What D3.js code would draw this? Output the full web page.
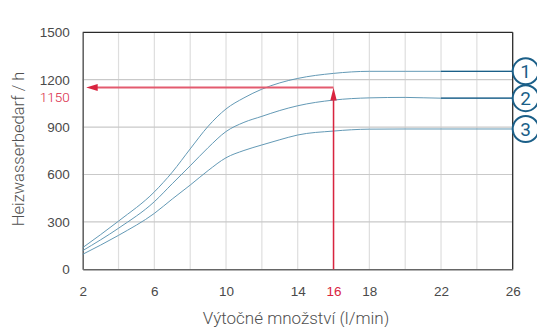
<!DOCTYPE html>
<html>
<head>
<meta charset="utf-8">
<script src="https://cdn.jsdelivr.net/npm/d3@7"></script>
<style>
  html, body { margin: 0; padding: 0; background: #fff; }
  svg { display: block; font-family: Roboto, "Noto Sans", sans-serif; }
</style>
</head>
<body>
<svg id="chart" width="537" height="327"></svg>
<script>
// Flow rate (l/min) against heating water demand (h) for three unit sizes
const flowRates = [2, 4, 6, 7, 8, 9, 10, 11, 12, 13, 14, 16, 18, 20, 22, 26];
const curve1 = [137, 305, 490, 615, 762, 905, 1015, 1085, 1140, 1180, 1208, 1240, 1253, 1253, 1253, 1253];
const curve2 = [118, 260, 428, 542, 655, 770, 872, 930, 968, 1005, 1035, 1071, 1085, 1088, 1083, 1083];
const curve3 = [95, 215, 354, 445, 533, 625, 706, 752, 787, 820, 850, 875, 887, 888, 888, 888];
const seriesNames = ["1", "2", "3"];

const xTicks = [2, 6, 10, 14, 16, 18, 22, 26];
const xGrid = [4, 6, 8, 10, 12, 14, 16, 18, 20, 22, 24];
const yTicks = [0, 300, 600, 900, 1200, 1500];
const yGrid = [300, 600, 900, 1200];

// Reading example: 16 l/min -> 1150 h
const markerFlow = 16;
const markerDemand = 1150;
const tailStart = 22; // dark tail segment of curves 1 and 2

const xTitle = "Výtočné množství (l/min)";
const yTitle = "Heizwasserbedarf / h";

const svg = d3.select("#chart");
const x = d3.scaleLinear().domain([2, 26]).range([82.7, 512.7]);
const y = d3.scaleLinear().domain([0, 1500]).range([269.3, 32.3]);

const lightBlue = "#5b93b1";
const darkBlue = "#1b5f88";
const red = "#d9243f";
const textCol = "#4a4a4a";

// grid
svg.append("g").selectAll("line").data(xGrid).join("line")
  .attr("x1", d => x(d)).attr("x2", d => x(d))
  .attr("y1", y(0)).attr("y2", y(1500))
  .attr("stroke", "#dedede").attr("stroke-width", 1.2);
svg.append("g").selectAll("line").data(yGrid).join("line")
  .attr("x1", x(2)).attr("x2", x(26))
  .attr("y1", d => y(d)).attr("y2", d => y(d))
  .attr("stroke", "#c9c9c9").attr("stroke-width", 1.2);

// frame
svg.append("line").attr("x1", x(2)).attr("x2", x(26)).attr("y1", y(1500)).attr("y2", y(1500))
  .attr("stroke", "#2a2a2a").attr("stroke-width", 1.3);
svg.append("line").attr("x1", x(26)).attr("x2", x(26)).attr("y1", y(1500)).attr("y2", y(0))
  .attr("stroke", "#2a2a2a").attr("stroke-width", 1.3);

// axes
const xAxis = d3.axisBottom(x).tickValues(xTicks).tickSize(0).tickPadding(17).tickFormat(d3.format("d"));
const gx = svg.append("g").attr("transform", `translate(0,${y(0)})`).call(xAxis);
gx.select(".domain").attr("stroke", "#666").attr("stroke-width", 1.6);
gx.selectAll("text").attr("font-size", 13.5).attr("font-weight", 300)
  .attr("fill", d => d === markerFlow ? red : textCol);

const yAxis = d3.axisLeft(y).tickValues(yTicks).tickSize(0).tickPadding(13).tickFormat(d3.format("d"));
const gy = svg.append("g").attr("transform", `translate(${x(2)},0)`).call(yAxis);
gy.select(".domain").attr("stroke", "#666").attr("stroke-width", 1.6);
gy.selectAll("text").attr("font-size", 13.5).attr("font-weight", 300).attr("fill", textCol);

// red marker value on the y axis, nudged below the 1200 tick label
svg.append("text")
  .attr("x", x(2) - 13).attr("y", y(markerDemand) + 10).attr("dy", "0.32em")
  .attr("text-anchor", "end").attr("font-size", 13.5).attr("font-weight", 300)
  .attr("fill", red).text(markerDemand);

// curves
const series = [curve1, curve2, curve3];
const line = d3.line().x(d => x(d[0])).y(d => y(d[1])).curve(d3.curveMonotoneX);
series.forEach(vals => {
  const pts = flowRates.map((f, i) => [f, vals[i]]);
  svg.append("path").attr("d", line(pts)).attr("fill", "none")
    .attr("stroke", lightBlue).attr("stroke-width", 1).attr("stroke-opacity", 0.95);
});
[curve1, curve2].forEach(vals => {
  const pts = flowRates.map((f, i) => [f, vals[i]]).filter(p => p[0] >= tailStart);
  svg.append("path").attr("d", line(pts)).attr("fill", "none")
    .attr("stroke", darkBlue).attr("stroke-width", 1.3);
});

// reading example arrows
svg.append("line")
  .attr("x1", x(markerFlow)).attr("x2", x(2) + 12)
  .attr("y1", y(markerDemand)).attr("y2", y(markerDemand))
  .attr("stroke", "#e35b6f").attr("stroke-width", 2);
svg.append("path")
  .attr("d", `M${x(2) + 3.5},${y(markerDemand)} L${x(2) + 15},${y(markerDemand) - 3.5} L${x(2) + 15},${y(markerDemand) + 3.5} Z`)
  .attr("fill", red);
svg.append("line")
  .attr("x1", x(markerFlow)).attr("x2", x(markerFlow))
  .attr("y1", y(0)).attr("y2", y(markerDemand) + 12)
  .attr("stroke", red).attr("stroke-width", 1.5);
svg.append("path")
  .attr("d", `M${x(markerFlow)},${y(markerDemand)} L${x(markerFlow) - 3.2},${y(markerDemand) + 13} L${x(markerFlow) + 3.2},${y(markerDemand) + 13} Z`)
  .attr("fill", red);

// curve labels
const labels = svg.append("g");
seriesNames.forEach((name, i) => {
  const vals = series[i];
  const cy = y(vals[vals.length - 1]);
  const cx = x(26) + 13;
  labels.append("circle").attr("cx", cx).attr("cy", cy).attr("r", 13)
    .attr("fill", "#fff").attr("stroke", darkBlue).attr("stroke-width", 2);
  labels.append("text").attr("x", cx).attr("y", cy).attr("dy", "0.36em")
    .attr("text-anchor", "middle").attr("font-size", 19).attr("font-weight", 400)
    .attr("fill", darkBlue).text(name);
});

// axis titles
svg.append("text").attr("x", 296).attr("y", 318).attr("dy", "0.35em")
  .attr("text-anchor", "middle").attr("font-size", 17).attr("font-weight", 300)
  .attr("fill", "#505050").text(xTitle);
svg.append("text").attr("transform", "translate(18,149) rotate(-90)").attr("dy", "0.35em")
  .attr("text-anchor", "middle").attr("font-size", 16.5).attr("font-weight", 300)
  .attr("fill", "#505050").text(yTitle);
</script>
</body>
</html>
